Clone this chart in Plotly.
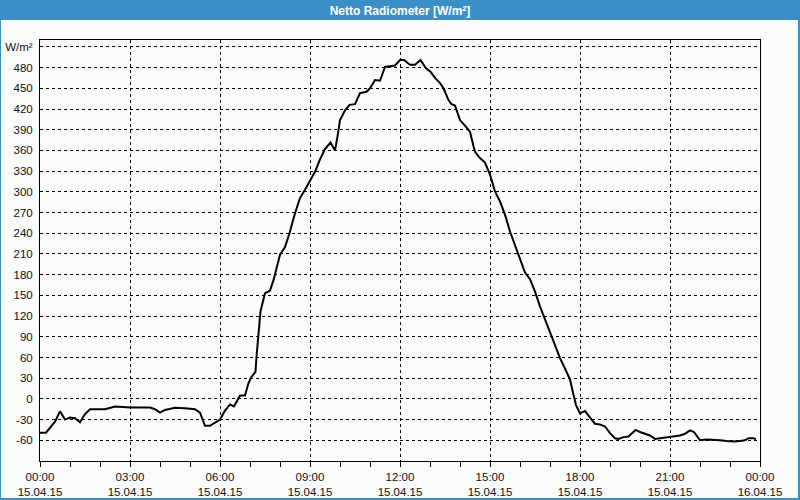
import plotly.graph_objects as go

# ---- data (time of day, W/m²) ----
times = [
    "00:00", "00:12", "00:30", "00:40", "00:50", "01:00", "01:10", "01:20", "01:30", "01:40",
    "02:10", "02:30", "03:00", "03:40", "03:50", "04:00", "04:10", "04:20", "04:30", "04:50",
    "05:10", "05:20", "05:30", "05:40", "06:00", "06:10", "06:20", "06:28", "06:40", "06:50",
    "06:57", "07:03", "07:11", "07:13", "07:17", "07:21", "07:30", "07:40", "07:47", "07:52",
    "08:00", "08:10", "08:19", "08:30", "08:40", "08:50", "09:00", "09:10", "09:20", "09:30",
    "09:41", "09:50", "09:55", "10:00", "10:10", "10:19", "10:30", "10:40", "10:53", "11:00",
    "11:10", "11:20", "11:30", "11:50", "12:00", "12:08", "12:20", "12:30", "12:41", "12:52",
    "13:01", "13:10", "13:20", "13:27", "13:37", "13:43", "13:50", "14:00", "14:10", "14:20",
    "14:27", "14:30", "14:40", "14:50", "15:00", "15:10", "15:20", "15:30", "15:40", "15:50",
    "16:00", "16:10", "16:20", "16:30", "16:40", "16:50", "17:00", "17:10", "17:20", "17:30",
    "17:40", "17:47", "17:52", "18:00", "18:10", "18:20", "18:30", "18:40", "18:50", "19:00",
    "19:10", "19:17", "19:27", "19:37", "19:43", "19:51", "20:00", "20:10", "20:20", "20:30",
    "20:40", "20:50", "21:00", "21:10", "21:20", "21:30", "21:40", "21:48", "21:57", "22:00",
    "22:13", "22:27", "22:40", "22:53", "23:07", "23:20", "23:30", "23:37", "23:47", "23:52",
]
values = [
    -49, -49, -33, -18, -30, -27, -28, -34, -22, -15,
    -15, -11, -12.5, -12.5, -15, -20, -16, -15, -13, -13.5,
    -15, -20, -39, -39, -30, -17, -8, -11, 5, 5,
    23, 32, 39, 61, 100, 127, 153, 157, 172, 187,
    209, 220, 240, 269, 291, 303, 317, 329, 347, 362,
    371.5, 360, 380, 404, 418, 426, 427, 443, 445, 450,
    462, 461, 481, 483, 491, 491, 484, 484, 491, 479,
    474, 465, 457.5, 450, 433, 427, 425, 404, 396, 387,
    366, 358, 349, 342.5, 325, 300.5, 286, 267, 242.5, 222,
    201, 183, 173.5, 155.5, 134, 114.5, 95, 76, 59, 44,
    28, 6, -9, -21, -17.5, -27, -36, -37, -40, -49.6,
    -57, -58, -55.4, -54.4, -50.6, -45, -48, -50.6, -53, -58,
    -57, -55.4, -54.4, -53, -53, -50.6, -45.7, -48, -57, -60,
    -58.7, -59, -60, -61, -61.6, -61, -60, -57, -57, -58.7,
]
day = "2015-04-15"
x_tick_times = ["2015-04-15 00:00", "2015-04-15 03:00", "2015-04-15 06:00", "2015-04-15 09:00",
                "2015-04-15 12:00", "2015-04-15 15:00", "2015-04-15 18:00", "2015-04-15 21:00",
                "2015-04-16 00:00"]
x_tick_text = ["00:00<br>15.04.15", "03:00<br>15.04.15", "06:00<br>15.04.15", "09:00<br>15.04.15",
               "12:00<br>15.04.15", "15:00<br>15.04.15", "18:00<br>15.04.15", "21:00<br>15.04.15",
               "00:00<br>16.04.15"]
y_tick_vals = [-60, -30, 0, 30, 60, 90, 120, 150, 180, 210, 240, 270, 300, 330, 360, 390, 420, 450, 480, 510]
y_tick_text = [str(v) for v in y_tick_vals[:-1]] + ["W/m²"]
title_text = "Netto Radiometer [W/m²]"

x = [f"{day} {t}" for t in times]

BG = "#fafcfa"
BLUE = "#3b8fc7"
FONT = "Liberation Sans"
TXT = "#101018"

fig = go.Figure()
fig.add_trace(go.Scatter(x=x, y=values, mode="lines",
                         line=dict(color="black", width=2), hoverinfo="skip"))

W, H = 800, 500
L, R, T, B = 40, 40, 40, 39
pw, ph = W - L - R, H - T - B


def px_x(p):
    return (p - L) / pw


def px_y(p):
    return (H - B - p) / ph


fig.update_layout(
    width=W, height=H,
    margin=dict(l=L, r=R, t=T, b=B, autoexpand=False),
    paper_bgcolor=BLUE,
    plot_bgcolor=BG,
    showlegend=False,
    font=dict(family=FONT, size=11, color=TXT),
    title=dict(text=f"<b>{title_text}</b>", x=0.5, xref="paper", xanchor="center",
               y=1 - 10.5 / H, yref="container", yanchor="middle",
               font=dict(family=FONT, size=12, color="white")),
    shapes=[dict(type="rect", xref="paper", yref="paper",
                 x0=px_x(1), x1=px_x(798), y0=px_y(498), y1=px_y(20),
                 fillcolor=BG, line=dict(width=0), layer="below")],
    xaxis=dict(
        type="date", automargin=False,
        range=["2015-04-15 00:00", "2015-04-16 00:00"],
        tickvals=x_tick_times, ticktext=x_tick_text,
        ticks="outside", ticklen=5, tickcolor="black", tickwidth=1,
        ticklabelstandoff=0,
        showgrid=True, gridcolor="black", gridwidth=1, griddash="3px,3px",
        showline=True, linecolor="black", linewidth=1, mirror=True,
        zeroline=False,
        minor=dict(ticks="outside", ticklen=5, tickcolor="black", tickwidth=1,
                   dtick=3600000, showgrid=False),
        tickfont=dict(family=FONT, size=11.5, color=TXT),
    ),
    yaxis=dict(
        automargin=False,
        range=[-90, 520],
        tickvals=y_tick_vals, ticktext=y_tick_text,
        ticks="", ticklabelstandoff=4,
        showgrid=True, gridcolor="black", gridwidth=1, griddash="3px,3px",
        showline=True, linecolor="black", linewidth=1, mirror=True,
        zeroline=False,
        tickfont=dict(family=FONT, size=11.5, color=TXT),
    ),
)

fig.write_html("out.html")
